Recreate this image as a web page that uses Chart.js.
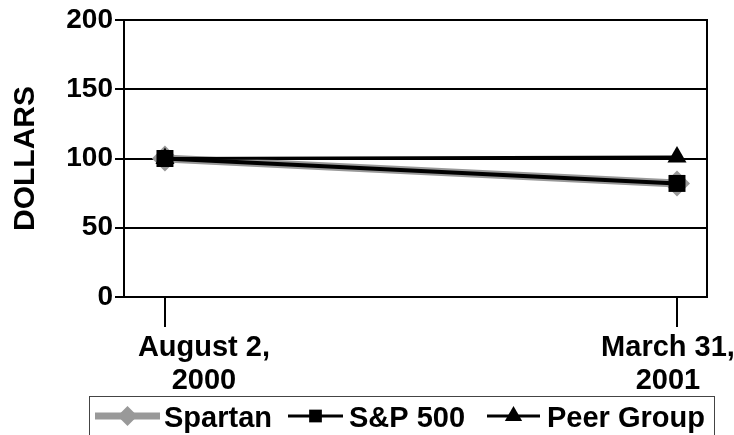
<!DOCTYPE html>
<html>
<head>
<meta charset="utf-8">
<script src="https://cdn.jsdelivr.net/npm/chart.js@4.4.1/dist/chart.umd.min.js"></script>
<style>
  html, body { margin: 0; padding: 0; background: #fff; }
  #wrap { width: 734px; height: 435px; position: relative; }
</style>
</head>
<body>
<div id="wrap"><canvas id="c" width="734" height="435"></canvas></div>
<script>
// ---- data ----
const categories = [["August 2,", "2000"], ["March 31,", "2001"]];
const spartan = [100, 82];
const sp500 = [100, 82];
const peerGroup = [100, 101];
const yTicks = [0, 50, 100, 150, 200];
const seriesNames = ["Spartan", "S&P 500", "Peer Group"];

const FONT = '"Liberation Sans", Arial, Helvetica, sans-serif';
const toPts = arr => arr.map((v, i) => ({ x: i, y: v }));

// x label offsets relative to tick position (label placement as in reference)
const labelShift = [39, -9];

const customPlugin = {
  id: 'custom',
  afterDatasetsDraw(chart) {
    const { ctx, chartArea } = chart;
    ctx.save();
    ctx.strokeStyle = '#000';
    ctx.lineWidth = 2;
    ctx.beginPath();
    ctx.moveTo(chartArea.right, chartArea.top - 1);
    ctx.lineTo(chartArea.right, chartArea.bottom + 1);
    ctx.stroke();
    ctx.restore();
  },
  afterDraw(chart) {
    const { ctx } = chart;
    const xs = chart.scales.x;
    ctx.save();
    // x tick labels
    ctx.fillStyle = '#000';
    ctx.font = 'bold 29px ' + FONT;
    ctx.textAlign = 'center';
    ctx.textBaseline = 'alphabetic';
    categories.forEach((lines, i) => {
      const px = xs.getPixelForValue(i) + labelShift[i];
      lines.forEach((t, j) => ctx.fillText(t, px, 356 + j * 33));
    });
    // legend
    ctx.strokeStyle = '#444';
    ctx.lineWidth = 1;
    ctx.strokeRect(89.5, 396.5, 625, 60);
    const ly = 416;
    const items = [
      { ds: chart.data.datasets[0], x0: 95, x1: 160, tx: 164 },
      { ds: chart.data.datasets[1], x0: 288, x1: 343, tx: 349 },
      { ds: chart.data.datasets[2], x0: 487, x1: 540, tx: 547 }
    ];
    items.forEach(it => {
      const ds = it.ds;
      ctx.strokeStyle = ds.borderColor;
      ctx.lineWidth = ds.legendLineWidth;
      ctx.beginPath();
      ctx.moveTo(it.x0, ly);
      ctx.lineTo(it.x1, ly);
      ctx.stroke();
      ctx.fillStyle = ds.pointBackgroundColor;
      ctx.strokeStyle = ds.pointBorderColor;
      Chart.helpers.drawPoint(ctx, {
        pointStyle: ds.pointStyle, radius: ds.legendPointRadius,
        rotation: 0, borderWidth: 0
      }, (it.x0 + it.x1) / 2, ly);
      ctx.fillStyle = '#000';
      ctx.font = 'bold 29px ' + FONT;
      ctx.textAlign = 'left';
      ctx.fillText(ds.label, it.tx, 427);
    });
    ctx.restore();
  }
};

new Chart(document.getElementById('c'), {
  type: 'line',
  data: {
    datasets: [
      {
        label: seriesNames[0], data: toPts(spartan), order: 2,
        borderColor: '#999999', borderWidth: 8,
        pointStyle: 'rectRot', pointRadius: 13, pointHoverRadius: 13,
        pointBackgroundColor: '#999999', pointBorderColor: '#999999', pointBorderWidth: 0,
        legendLineWidth: 7, legendPointRadius: 10
      },
      {
        label: seriesNames[1], data: toPts(sp500), order: 1,
        borderColor: '#000000', borderWidth: 4,
        pointStyle: 'rect', pointRadius: 12, pointHoverRadius: 12,
        pointBackgroundColor: '#000000', pointBorderColor: '#000000', pointBorderWidth: 0,
        legendLineWidth: 3, legendPointRadius: 9
      },
      {
        label: seriesNames[2], data: toPts(peerGroup), order: 0,
        borderColor: '#000000', borderWidth: 3,
        pointStyle: 'triangle', pointRadius: 11, pointHoverRadius: 11,
        pointBackgroundColor: '#000000', pointBorderColor: '#000000', pointBorderWidth: 0,
        legendLineWidth: 3, legendPointRadius: 10
      }
    ]
  },
  options: {
    responsive: false,
    animation: false,
    events: [],
    layout: { padding: { top: 20, right: 27, left: 0, bottom: 0 } },
    plugins: { legend: { display: false }, tooltip: { enabled: false } },
    scales: {
      x: {
        type: 'linear',
        min: -0.08, max: 1.0586,
        afterBuildTicks: s => { s.ticks = categories.map((c, i) => ({ value: i })); },
        afterFit: s => { s.height = 138; },
        ticks: { display: false },
        grid: { drawOnChartArea: false, drawTicks: true, tickLength: 30, color: '#000', lineWidth: 2 },
        border: { display: true, color: '#000', width: 2 }
      },
      y: {
        min: 0, max: 200,
        afterBuildTicks: s => { s.ticks = yTicks.map(v => ({ value: v })); },
        afterFit: s => { s.width = 124; },
        ticks: { color: '#000', font: { family: FONT, size: 28, weight: 'bold' }, padding: 2 },
        grid: { color: '#000', lineWidth: 2, tickLength: 9 },
        border: { display: true, color: '#000', width: 2 },
        title: {
          display: true, text: 'DOLLARS', color: '#000',
          font: { family: FONT, size: 30, weight: 'bold' },
          padding: { top: 8, bottom: 0 }
        }
      }
    }
  },
  plugins: [customPlugin]
});
</script>
</body>
</html>
